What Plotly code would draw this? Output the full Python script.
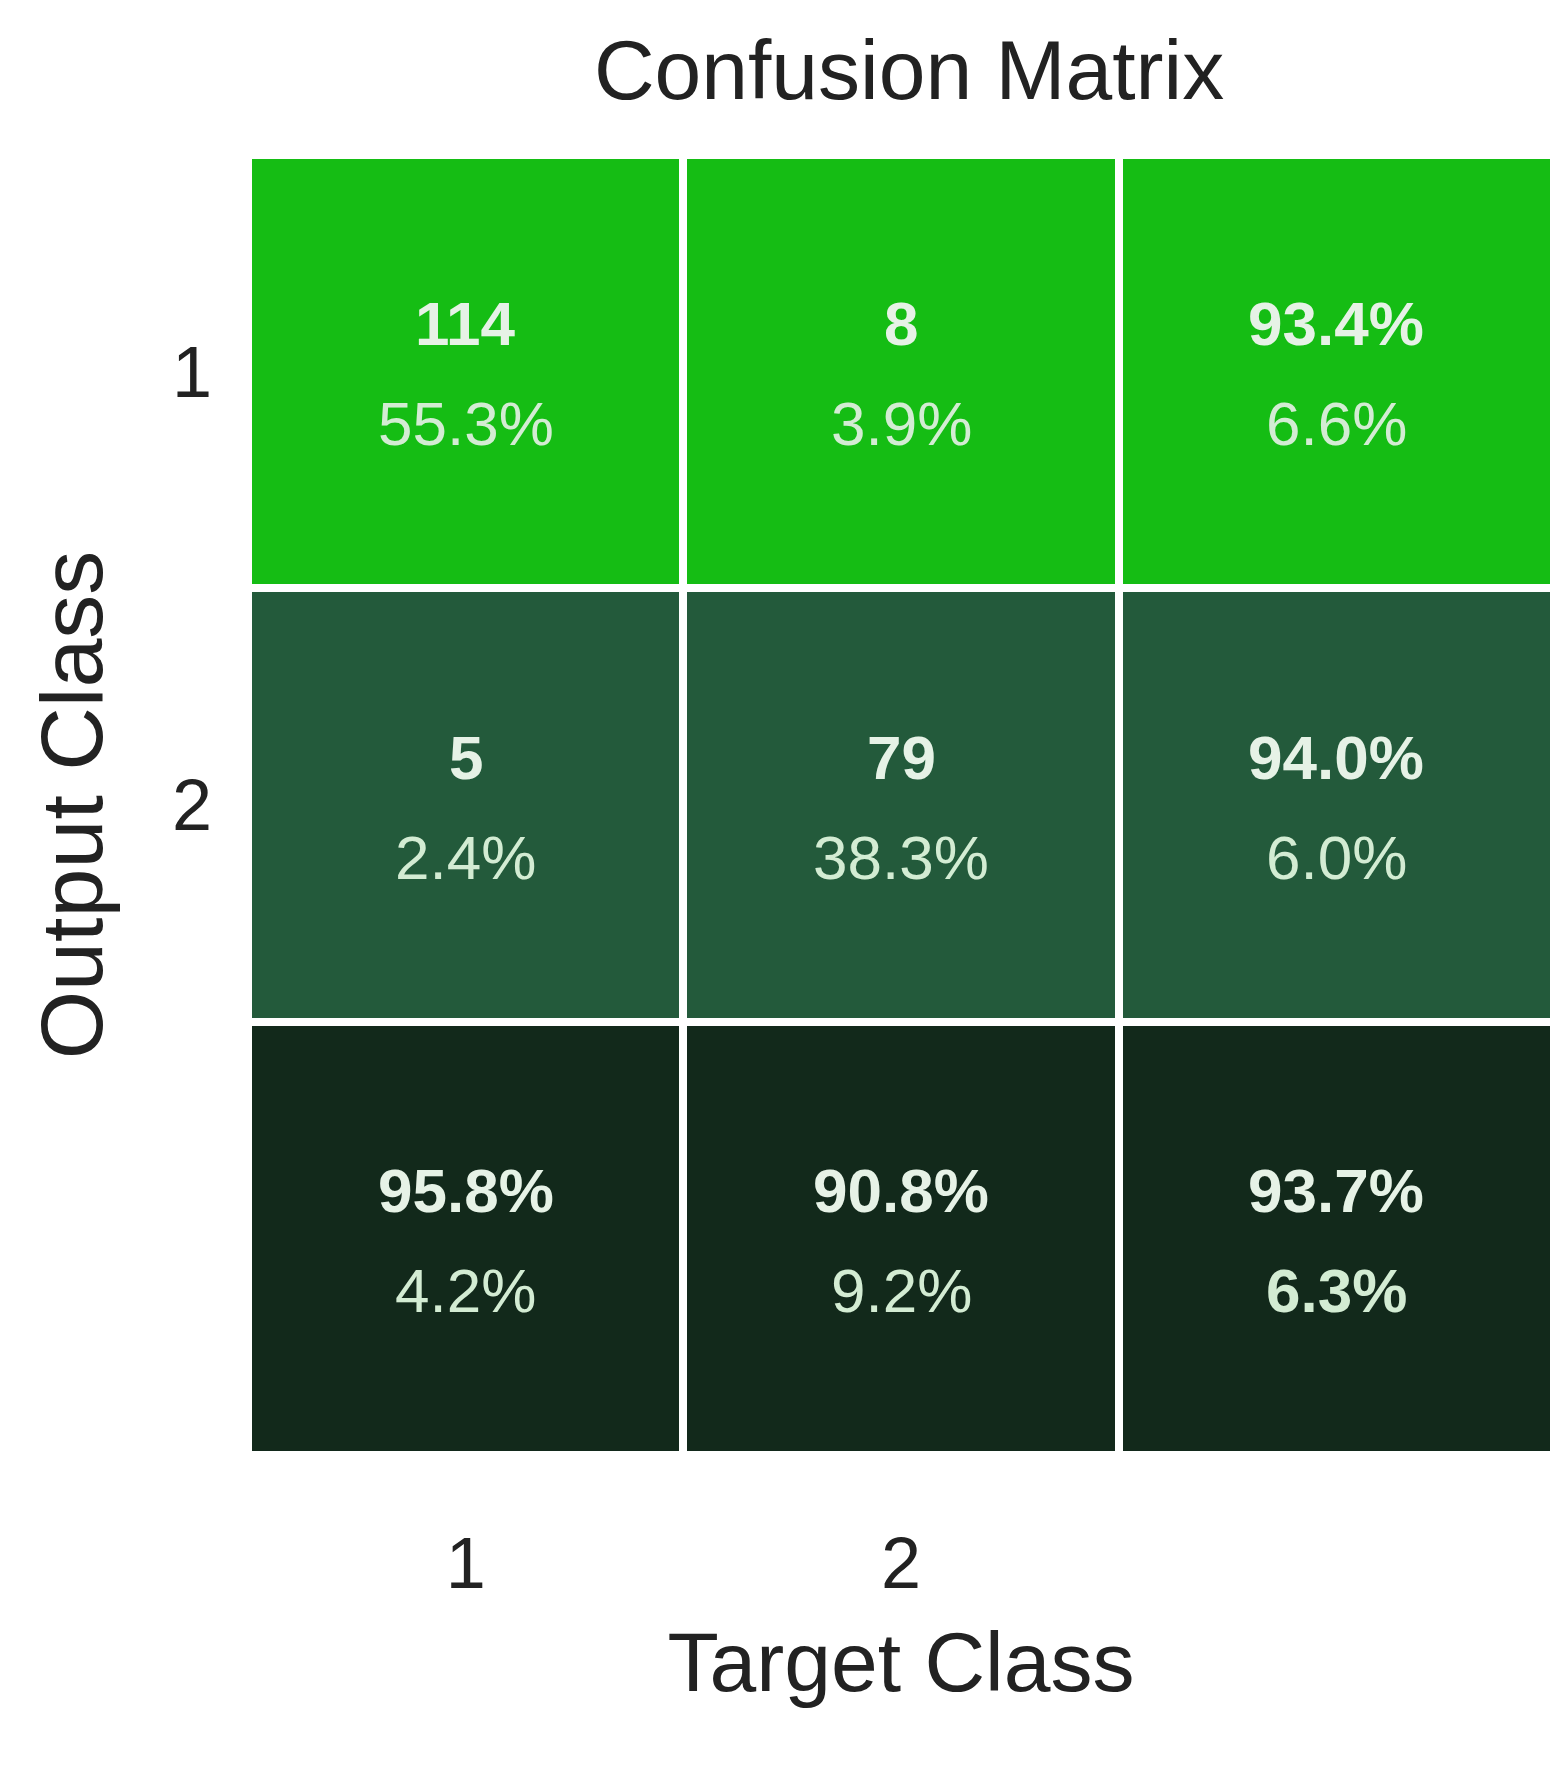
import plotly.graph_objects as go

col_labels = ["1", "2", ""]
row_labels = ["1", "2", ""]
counts = [["114", "8", "93.4%"], ["5", "79", "94.0%"], ["95.8%", "90.8%", "93.7%"]]
pcts = [["55.3%", "3.9%", "6.6%"], ["2.4%", "38.3%", "6.0%"], ["4.2%", "9.2%", "6.3%"]]
row_level = [2, 1, 0]
colors = ["#12291b", "#235a3b", "#15bd14"]

xs = [0, 1, 2]
ys = [0, 1, 2]
z = [[row_level[r]] * 3 for r in ys]

fig = go.Figure(go.Heatmap(
    x=xs, y=ys, z=z, xgap=8, ygap=8, showscale=False, hoverinfo="skip",
    colorscale=[[0, colors[0]], [0.5, colors[1]], [1, colors[2]]], zmin=0, zmax=2))

ann = []
for r in ys:
    for c in xs:
        ann.append(dict(x=c, y=r, text=f"<b>{counts[r][c]}</b>", yshift=48, showarrow=False,
                        font=dict(size=62, color="#e6f2e6", family="Liberation Sans")))
        bold = (r == 2 and c == 2)
        t = f"<b>{pcts[r][c]}</b>" if bold else pcts[r][c]
        ann.append(dict(x=c, y=r, text=t, yshift=-52, showarrow=False,
                        font=dict(size=62, color="#d3ecd3", family="Liberation Sans")))

fig.update_layout(
    width=1567, height=1773, paper_bgcolor="white", plot_bgcolor="white",
    margin=dict(l=240, r=21, t=147, b=326),
    title=dict(text="Confusion Matrix", x=0.575, xanchor="center", y=0.965, yanchor="middle",
               font=dict(size=84, color="#222", family="Liberation Sans")),
    annotations=ann,
    font=dict(family="Liberation Sans", color="#222"),
)
fig.update_xaxes(tickvals=xs, ticktext=col_labels, tickfont=dict(size=72), showgrid=False,
                 zeroline=False, ticks="", ticklabelstandoff=60,
                 title=dict(text="Target Class", font=dict(size=84), standoff=30))
fig.update_yaxes(tickvals=ys, ticktext=row_labels, tickfont=dict(size=72), showgrid=False,
                 zeroline=False, autorange="reversed", ticks="", ticklabelstandoff=35,
                 title=dict(text="Output Class", font=dict(size=88), standoff=40))
fig.write_html("out.html")
